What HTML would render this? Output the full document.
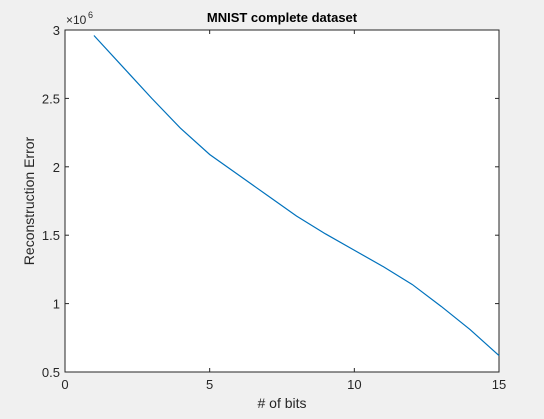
<!DOCTYPE html>
<html><head><meta charset="utf-8"><style>
body{margin:0;background:#f0f0f0;width:544px;height:414px;overflow:hidden;font-family:"Liberation Sans",sans-serif;}
</style></head><body>
<svg id="chart" width="544" height="414" font-family="Liberation Sans, sans-serif"></svg>
<script>
const xs=[1,2,3,4,5,6,7,8,9,10,11,12,13,14,15];
const ys=[2.96,2.73,2.50,2.28,2.09,1.94,1.79,1.64,1.51,1.39,1.27,1.14,0.98,0.81,0.62];
const xTicks=[0,5,10,15];
const yTicks=[0.5,1,1.5,2,2.5,3];
const yTickLabels=["0.5","1","1.5","2","2.5","3"];
const L=65,R=499,T=30,B=372;
const sx=v=>L+(v-0)/(15-0)*(R-L);
const sy=v=>B-(v-0.5)/(3-0.5)*(B-T);
const NS="http://www.w3.org/2000/svg";
const svg=document.getElementById('chart');
function mk(t,a,txt){const e=document.createElementNS(NS,t);for(const k in a)e.setAttribute(k,a[k]);if(txt!==undefined)e.textContent=txt;svg.appendChild(e);return e;}
let r=mk('rect',{x:L,y:T,width:R-L,height:B-T,fill:'#fff',stroke:'#262626','stroke-width':1});


xTicks.forEach(v=>{const x=sx(v);
mk('line',{x1:x,x2:x,y1:B,y2:B-4,stroke:'#262626'});
mk('line',{x1:x,x2:x,y1:T,y2:T+4,stroke:'#262626'});
const t=mk('text',{x:x,y:B+17,'text-anchor':'middle','font-size':13,fill:'#262626'},String(v));

});
yTicks.forEach((v,i)=>{const y=sy(v);
mk('line',{x1:L,x2:L+4,y1:y,y2:y,stroke:'#262626'});
mk('line',{x1:R,x2:R-4,y1:y,y2:y,stroke:'#262626'});
const t=mk('text',{x:L-5,y:y+5,'text-anchor':'end','font-size':13,fill:'#262626'},yTickLabels[i]);

});
const p=mk('polyline',{points:xs.map((x,i)=>sx(x)+','+sy(ys[i])).join(' '),fill:'none',stroke:'#0072bd','stroke-width':1.2});


const ex=mk('text',{x:66,y:24,'font-size':12,fill:'#262626'},'×10');


const ex2=mk('text',{x:88,y:18,'font-size':9,fill:'#262626'},'6');


const ti=mk('text',{x:282,y:22,'text-anchor':'middle','font-size':13,'font-weight':'bold',fill:'#000'},'MNIST complete dataset');


const xl=mk('text',{x:282,y:408,'text-anchor':'middle','font-size':14,fill:'#262626'},'# of bits');


const yl=mk('text',{x:0,y:0,'text-anchor':'middle','font-size':14,fill:'#262626',transform:'translate(34,201) rotate(-90)'},'Reconstruction Error');


</script>
</body></html>
